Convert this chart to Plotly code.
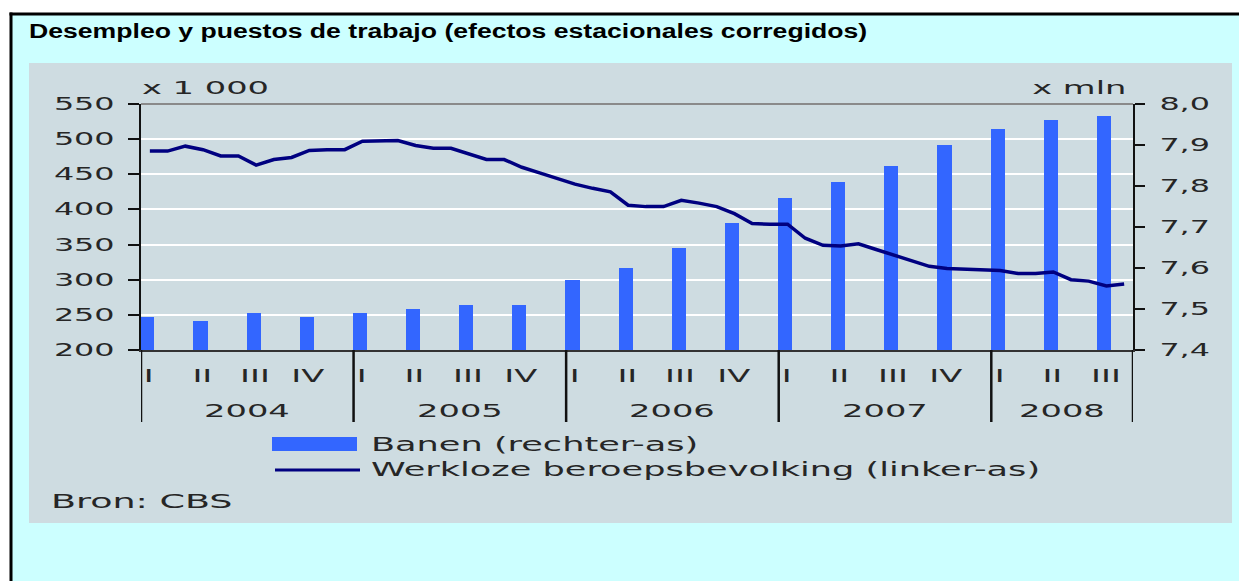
import plotly.graph_objects as go

# ---------------- data ----------------
years = [2004, 2005, 2006, 2007, 2008]
quarters = ["I", "II", "III", "IV"]
quarters_per_year = [4, 4, 4, 4, 3]
months_shown = 56  # Jan 2004 .. Aug 2008

# Banen (rechter-as), x mln, one value per quarter 2004-I .. 2008-III
banen = [7.48, 7.47, 7.49, 7.48, 7.49, 7.50, 7.51, 7.51, 7.57, 7.60,
         7.65, 7.71, 7.77, 7.81, 7.85, 7.90, 7.94, 7.96, 7.97]

# Werkloze beroepsbevolking (linker-as), x 1 000, monthly Jan 2004 .. Aug 2008
werkloos = [483, 483, 490, 485, 476, 476, 463, 471, 474, 484, 485, 485,
            497, 498, 498, 491, 487, 487, 479, 471, 471, 460, 452, 444,
            436, 430, 425, 406, 404, 404, 413, 409, 404, 394, 380, 379,
            379, 359, 349, 348, 351, 343, 335, 326, 319, 316, 315, 315,
            313, 309, 309, 311, 300, 298, 291, 294]

left_ticks = [200, 250, 300, 350, 400, 450, 500, 550]
right_ticks = [7.4, 7.5, 7.6, 7.7, 7.8, 7.9, 8.0]

title = "Desempleo y puestos de trabajo (efectos estacionales corregidos)"
left_unit = "x 1 000"
right_unit = "x mln"
legend_bar = "Banen (rechter-as)"
legend_line = "Werkloze beroepsbevolking (linker-as)"
source = "Bron: CBS"

# ---------------- layout helpers (pixel -> paper) ----------------
W, H = 1262, 600
PL, PR, PT, PB = 141, 1133, 104, 350


def px(x):
    return (x - PL) / (PR - PL)


def py(y):
    return (PB - y) / (PB - PT)


BAR_COLOR = "#3366FF"
LINE_COLOR = "#000080"
PANEL = "#CEDCE1"
OUTER = "#CCFFFF"
TXT = "#262626"
FONT = "DejaVu Sans"

bar_x = []
for yi, nq in enumerate(quarters_per_year):
    for q in range(nq):
        bar_x.append(yi * 12 + q * 3 + 0.36)
line_x = [m + 0.5 for m in range(len(werkloos))]

fig = go.Figure()
fig.add_trace(go.Bar(x=bar_x, y=banen, width=0.8, marker=dict(color=BAR_COLOR, line=dict(width=0)),
                     name=legend_bar, yaxis="y", showlegend=False))
fig.add_trace(go.Scatter(x=line_x, y=werkloos, mode="lines", line=dict(color=LINE_COLOR, width=3.5),
                         name=legend_line, yaxis="y2", showlegend=False))

shapes = []
# outer background, frame lines and panel
shapes.append(dict(type="rect", xref="paper", yref="paper", x0=px(11), x1=px(W), y0=py(H), y1=py(14),
                   line=dict(width=0), fillcolor=OUTER, layer="below"))
shapes.append(dict(type="line", xref="paper", yref="paper", x0=px(9.5), x1=px(W), y0=py(14), y1=py(14),
                   line=dict(color="black", width=3), layer="below"))
shapes.append(dict(type="line", xref="paper", yref="paper", x0=px(11), x1=px(11), y0=py(H), y1=py(12.5),
                   line=dict(color="black", width=3), layer="below"))
shapes.append(dict(type="rect", xref="paper", yref="paper", x0=px(29), x1=px(1232), y0=py(523), y1=py(63),
                   line=dict(width=0), fillcolor=PANEL, layer="below"))
# top border line of plot
shapes.append(dict(type="line", xref="paper", yref="paper", x0=0, x1=1, y0=1, y1=1,
                   line=dict(color="#8a8a8a", width=2)))
# year separators
bounds = [0]
for nq in quarters_per_year:
    bounds.append(bounds[-1] + (12 if nq == 4 else months_shown - bounds[-1]))
for b in bounds:
    shapes.append(dict(type="line", xref="x", yref="paper", x0=b, x1=b, y0=py(422), y1=0,
                       line=dict(color="#111111", width=2.5)))
# legend swatches
shapes.append(dict(type="rect", xref="paper", yref="paper", x0=px(272), x1=px(357), y0=py(451), y1=py(437),
                   line=dict(width=0), fillcolor=BAR_COLOR))
shapes.append(dict(type="line", xref="paper", yref="paper", x0=px(275), x1=px(360), y0=py(470), y1=py(470),
                   line=dict(color=LINE_COLOR, width=3)))

ann = []
# quarter and year labels
for yi, (yr, nq) in enumerate(zip(years, quarters_per_year)):
    for q in range(nq):
        ann.append(dict(x=yi * 12 + q * 3 + 0.45, y=py(375), xref="x", yref="paper", text=quarters[q],
                        showarrow=False, xanchor="center", yanchor="middle",
                        font=dict(family=FONT, size=18, color=TXT)))
    ann.append(dict(x=(bounds[yi] + bounds[yi + 1]) / 2, y=py(410), xref="x", yref="paper", text=str(yr),
                    showarrow=False, xanchor="center", yanchor="middle",
                    font=dict(family=FONT, size=18, color=TXT)))
ann.append(dict(x=px(27), y=py(31), xref="paper", yref="paper", text="<b>" + title + "</b>",
                showarrow=False, xanchor="left", yanchor="middle", align="left",
                font=dict(family="Liberation Sans", size=20, color="black")))
ann.append(dict(x=px(140), y=py(87), xref="paper", yref="paper", text=left_unit,
                showarrow=False, xanchor="left", yanchor="middle", align="left",
                font=dict(family=FONT, size=18, color=TXT)))
ann.append(dict(x=px(1128), y=py(87), xref="paper", yref="paper", text=right_unit,
                showarrow=False, xanchor="right", yanchor="middle", align="right",
                font=dict(family=FONT, size=18, color=TXT)))
ann.append(dict(x=px(369), y=py(444), xref="paper", yref="paper", text=legend_bar,
                showarrow=False, xanchor="left", yanchor="middle", align="left",
                font=dict(family=FONT, size=18.8, color=TXT)))
ann.append(dict(x=px(369), y=py(469), xref="paper", yref="paper", text=legend_line,
                showarrow=False, xanchor="left", yanchor="middle", align="left",
                font=dict(family=FONT, size=18.8, color=TXT)))
ann.append(dict(x=px(49), y=py(501), xref="paper", yref="paper", text=source,
                showarrow=False, xanchor="left", yanchor="middle", align="left",
                font=dict(family=FONT, size=19.5, color=TXT)))

fig.update_layout(
    width=W, height=H,
    margin=dict(l=PL, r=W - PR, t=PT, b=H - PB, pad=0),
    paper_bgcolor="white", plot_bgcolor=PANEL,
    separators=", ",
    bargap=0,
    showlegend=False,
    xaxis=dict(range=[0, months_shown], showticklabels=False, ticks="", showgrid=False, zeroline=False,
               showline=True, linecolor="#333333", linewidth=2, fixedrange=True),
    yaxis=dict(range=[7.4, 8.0], side="right", tickvals=right_ticks, tickformat=".1f",
               ticks="outside", ticklen=10, tickwidth=2, tickcolor="#111111",
               showline=True, linecolor="#111111", linewidth=2, showgrid=False, zeroline=False,
               tickfont=dict(family=FONT, size=17, color=TXT), ticklabelstandoff=11),
    yaxis2=dict(range=[200, 550], side="left", overlaying="y", tickvals=left_ticks,
                ticks="outside", ticklen=11, tickwidth=2, tickcolor="#111111",
                showline=True, linecolor="#111111", linewidth=2,
                showgrid=True, gridcolor="white", gridwidth=2, zeroline=False,
                tickfont=dict(family=FONT, size=17, color=TXT), ticklabelstandoff=10),
    shapes=shapes,
    annotations=ann,
)

post = """
var gd = document.getElementById('{plot_id}');
document.documentElement.style.margin = '0';
document.body.style.margin = '0';
document.body.style.background = '#CCFFFF';
document.documentElement.style.overflow = 'hidden';
document.body.style.overflow = 'hidden';
function stretch(){
  gd.querySelectorAll('svg text').forEach(function(t){
    t.removeAttribute('textLength');
    t.removeAttribute('lengthAdjust');
    var s = (t.textContent || '').trim();
    if (!s) return;
    var f = (s.indexOf('Desempleo') === 0) ? 1.33 : 1.87;
    var w = t.getComputedTextLength();
    if (w > 0) {
      t.setAttribute('textLength', (w * f).toFixed(1));
      t.setAttribute('lengthAdjust', 'spacingAndGlyphs');
    }
  });
}
stretch();
setTimeout(stretch, 50);
gd.on('plotly_afterplot', stretch);
"""

fig.write_html("out.html", post_script=post, config={"displayModeBar": False})
